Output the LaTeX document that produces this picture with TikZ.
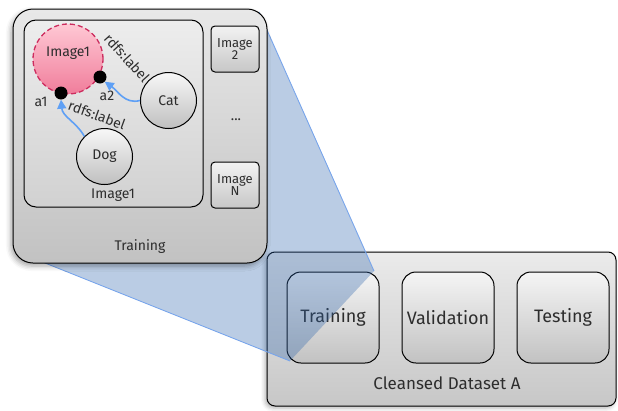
\documentclass[tikz,border=0pt]{standalone}
\usepackage{fontspec}
\setmainfont{Fira Sans}
\usetikzlibrary{shadows.blur,arrows.meta}
\definecolor{txt}{RGB}{45,45,45}
\definecolor{funfill}{RGB}{45,100,172}
\definecolor{funline}{RGB}{120,165,235}
\definecolor{arrowblue}{RGB}{95,160,245}
\definecolor{pinktop}{RGB}{255,200,212}
\definecolor{pinkbot}{RGB}{240,125,155}
\definecolor{pinkline}{RGB}{205,45,95}
\tikzset{
  gbox/.style={draw=black, line width=1pt, top color=black!6, bottom color=black!22, inner sep=0pt},
  bigbox/.style={gbox, rounded corners=20pt, top color=black!9, bottom color=black!24,
     blur shadow={shadow xshift=-2pt, shadow yshift=-3pt, shadow blur radius=5pt, shadow opacity=35}},
  midbox/.style={gbox, rounded corners=12pt, top color=black!7, bottom color=black!18},
  imgbox/.style={gbox, rounded corners=4pt, top color=black!5, bottom color=black!22,
     minimum width=48pt, minimum height=46pt, align=center, font=\fontsize{13}{14}\selectfont},
  dsbox/.style={gbox, rounded corners=8pt, top color=black!8, bottom color=black!22,
     blur shadow={shadow xshift=-2pt, shadow yshift=-2pt, shadow blur radius=4pt, shadow opacity=30}},
  splitbox/.style={gbox, rounded corners=14pt, top color=black!4, bottom color=black!24,
     minimum width=92pt, minimum height=91pt, font=\fontsize{18}{20}\selectfont},
  conc/.style={circle, draw=black, line width=1pt, top color=black!3, bottom color=black!25,
     minimum size=56pt, inner sep=0pt},
  dot/.style={circle, fill=black, minimum size=13pt, inner sep=0pt},
  rel/.style={draw=arrowblue, line width=1.6pt, -{Triangle[length=9pt,width=9pt]}},
  funnelline/.style={draw=funline, line width=0.9pt},
  lbl/.style={text=txt, inner sep=1pt}
}
\begin{document}
\begin{tikzpicture}[x=1pt, y=-1pt, font=\fontsize{14}{16}\selectfont, text=txt]
\useasboundingbox (0,0) rectangle (618,410);

% Cleansed dataset
\node[dsbox, minimum width=349pt, minimum height=154pt] (ds) at (441.5,329) {};
\node[lbl, font=\fontsize{17}{19}\selectfont] (dslab) at (447,383) {Cleansed Dataset A};
\node[splitbox] (tr) at (333,317.5) {Training};
\node[splitbox] (va) at (448,317.5) {Validation};
\node[splitbox] (te) at (563,317.5) {Testing};

% funnel
\coordinate (f1) at (259,12);
\coordinate (f2) at (374,271);
\coordinate (f3) at (290,361);
\coordinate (f4) at (30,257);
\fill[funfill, opacity=0.33] (f1) -- (f2) -- (f3) -- (f4) -- cycle;
\draw[funnelline] (f1) -- (f2);
\draw[funnelline] (f4) -- (f3);

% big training box
\node[bigbox, minimum width=254pt, minimum height=254pt] (big) at (140,136) {};
\node[lbl] (biglab) at (140,247) {Training};
\node[midbox, minimum width=179pt, minimum height=187pt] (img) at (113.5,113.5) {};
\node[lbl] (imglab) at (113,195) {Image1};
\node[imgbox] (i2) at (235,49) {Image\\[-2pt]2};
\node[lbl] (dots) at (236,120) {...};
\node[imgbox] (iN) at (235,185) {Image\\[-2pt]N};

% annotation graph
\node[circle, draw=pinkline, dashed, dash pattern=on 5pt off 3pt, line width=1.3pt,
      top color=pinktop, bottom color=pinkbot, minimum size=70pt, inner sep=0pt] (im1) at (68,59) {};
\node[lbl] (im1lab) at (68,53) {Image1};
\node[dot] (a1) at (61,93) {};
\node[dot] (a2) at (100,77) {};
\node[lbl] (a1lab) at (41,102) {a1};
\node[lbl] (a2lab) at (107,96) {a2};
\node[conc] (cat) at (168.5,100.5) {Cat};
\node[conc] (dog) at (104.5,156.5) {Dog};
\draw[rel] (cat.west) to[out=195, in=-35] (a2.south east);
\draw[rel] (dog.north west) to[out=120, in=-85] (a1.south);
\node[lbl, rotate=-48] (r1) at (127,58) {rdfs:label};
\node[lbl, rotate=-20] (r2) at (97,115) {rdfs:label};
\end{tikzpicture}
\end{document}
